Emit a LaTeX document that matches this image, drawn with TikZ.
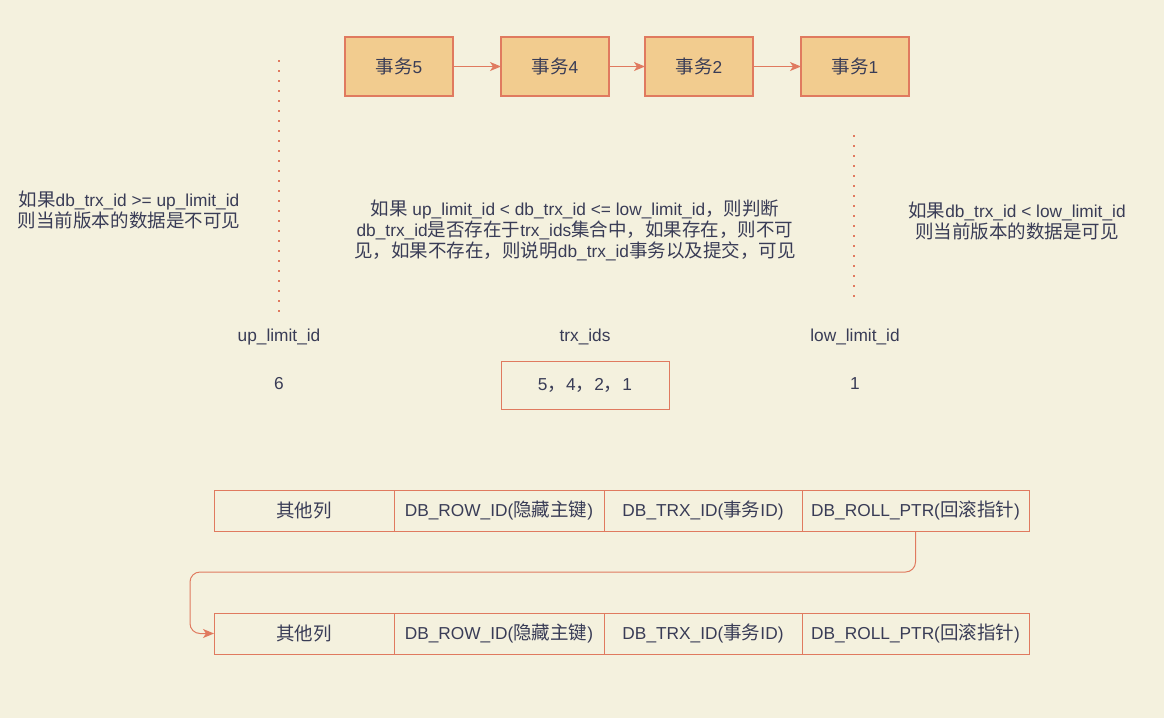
\documentclass[tikz,border=0pt]{standalone}
\usepackage{fontspec}
\setmainfont{Liberation Sans}
\newfontfamily\cjk{Noto Sans CJK SC}[Scale=1.07]
\newcommand{\zh}[1]{{\cjk #1}}
\usetikzlibrary{arrows.meta, positioning, calc}

\definecolor{paper}{HTML}{F4F1DE}
\definecolor{sand}{HTML}{F2CC8F}
\definecolor{clay}{HTML}{E07A5F}
\definecolor{ink}{HTML}{393C56}

\begin{document}
\begin{tikzpicture}[
  x=1pt, y=-1pt,
  every node/.style={text=ink, font=\fontsize{17.3}{21}\selectfont},
  txbox/.style={draw=clay, fill=sand, line width=1.2pt, minimum width=108pt, minimum height=59pt, inner sep=0pt, outer sep=0pt},
  cell/.style={draw=clay, line width=1pt, minimum height=41pt, inner sep=0pt, outer sep=0pt},
  idbox/.style={draw=clay, line width=1pt, minimum width=168pt, minimum height=48pt, inner sep=0pt},
  note/.style={align=center, inner sep=0pt},
  link/.style={draw=clay, line width=1pt, -{Stealth[length=11pt, width=9pt, inset=3pt]}},
  dotline/.style={draw=clay, line width=2pt, dash pattern=on 2pt off 8pt}
  ]
    % canvas
    \fill[paper] (0,0) rectangle (1164,718);
    \useasboundingbox (0,0) rectangle (1164,718);

    % transactions
    \node[txbox] (tx5) at (399,66.5) {\zh{事务}5};
    \node[txbox, right=48pt of tx5] (tx4) {\zh{事务}4};
    \node[txbox, right=36pt of tx4] (tx2) {\zh{事务}2};
    \node[txbox, right=48pt of tx2] (tx1) {\zh{事务}1};

    \draw[link] (tx5) -- (tx4);
    \draw[link] (tx4) -- (tx2);
    \draw[link] (tx2) -- (tx1);

    % borders of the read view
    \draw[dotline] (279,60) -- (279,313);
    \draw[dotline] (854,135) -- (854,300);

    % rules
    \node[note] (ruleA) at (129,210.5) {\zh{如果}db\_trx\_id >= up\_limit\_id\\ \zh{则当前版本的数据是不可见}};
    \node[note] (ruleB) at (575,230) {\zh{如果} up\_limit\_id < db\_trx\_id <= low\_limit\_id\zh{，则判断}\\
      db\_trx\_id\zh{是否存在于}trx\_ids\zh{集合中，如果存在，则不可}\\
      \zh{见，如果不存在，则说明}db\_trx\_id\zh{事务以及提交，可见}};
    \node[note] (ruleC) at (1017,221.5) {\zh{如果}db\_trx\_id < low\_limit\_id\\ \zh{则当前版本的数据是可见}};

    % read view fields
    \node (up) at (279,337) {up\_limit\_id};
    \node (ids) at (585,337) {trx\_ids};
    \node (low) at (855,337) {low\_limit\_id};

    \node (upval) at (279,384) {6};
    \node[idbox] (idsval) at (585,385) {5\zh{，}4\zh{，}2\zh{，}1};
    \node (lowval) at (855,384) {1};

    % row 1
    \node[cell, minimum width=180pt, anchor=north west] (r1c1) at (214,490) {\zh{其他列}};
    \node[cell, minimum width=210pt, right=0pt of r1c1] (r1c2) {DB\_ROW\_ID(\zh{隐藏主键})};
    \node[cell, minimum width=198pt, right=0pt of r1c2] (r1c3) {DB\_TRX\_ID(\zh{事务}ID)};
    \node[cell, minimum width=227pt, right=0pt of r1c3] (r1c4) {DB\_ROLL\_PTR(\zh{回滚指针})};

    % row 2
    \node[cell, minimum width=180pt, anchor=north west] (r2c1) at (214,613) {\zh{其他列}};
    \node[cell, minimum width=210pt, right=0pt of r2c1] (r2c2) {DB\_ROW\_ID(\zh{隐藏主键})};
    \node[cell, minimum width=198pt, right=0pt of r2c2] (r2c3) {DB\_TRX\_ID(\zh{事务}ID)};
    \node[cell, minimum width=227pt, right=0pt of r2c3] (r2c4) {DB\_ROLL\_PTR(\zh{回滚指针})};

    % roll pointer
    \coordinate (back) at (190,572);
    \draw[link, rounded corners=10pt] (r1c4.south) |- (back) |- (r2c1.west);

\end{tikzpicture}
\end{document}
